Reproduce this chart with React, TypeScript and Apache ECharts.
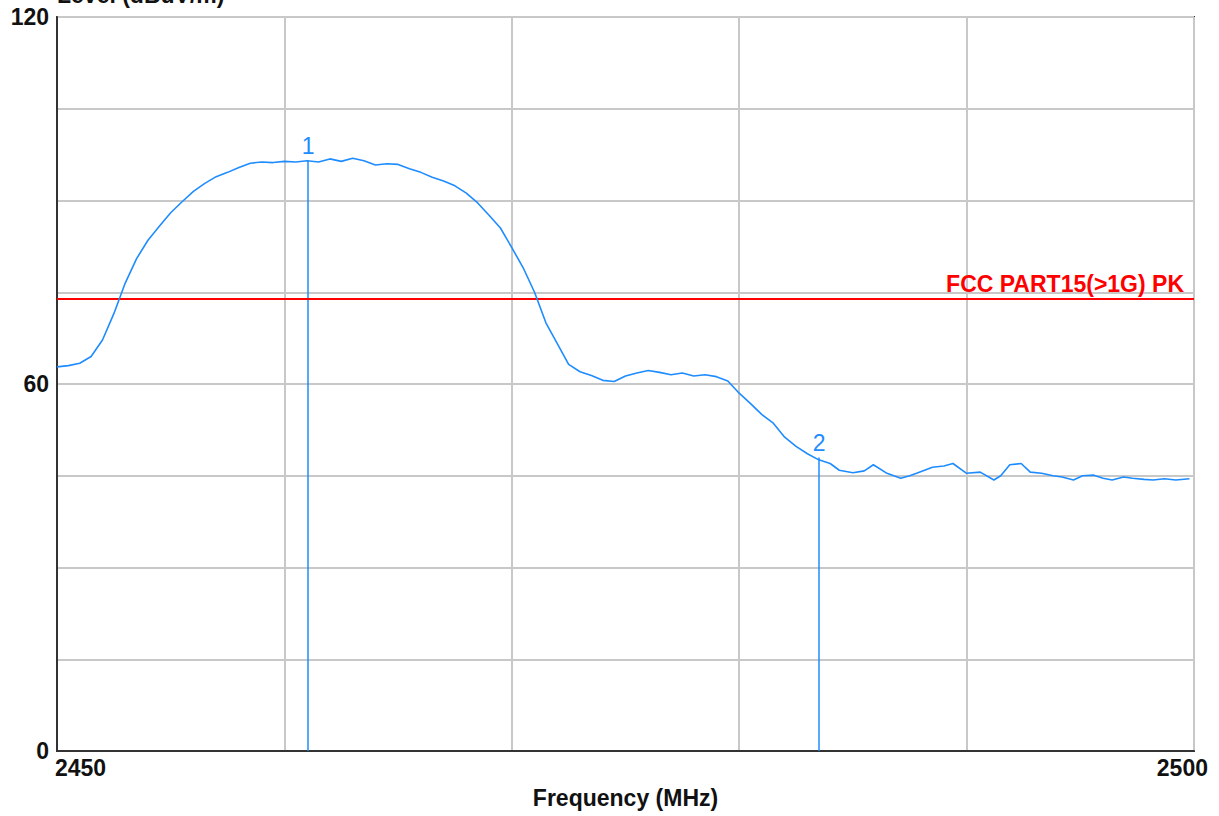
import React, { useEffect, useRef } from "react";
import * as echarts from "echarts";

// Frequency (MHz) of each trace point and the measured level (dBuV/m)
const freqs: number[] = [
  2450.0, 2450.5, 2451.0, 2451.5, 2452.0, 2452.5, 2453.0, 2453.5, 2454.0, 2454.5,
  2455.0, 2455.5, 2456.0, 2456.5, 2457.0, 2457.5, 2458.0, 2458.5, 2459.0, 2459.5,
  2460.0, 2460.5, 2461.0, 2461.5, 2462.0, 2462.5, 2463.0, 2463.5, 2464.0, 2464.5,
  2465.0, 2465.5, 2466.0, 2466.5, 2467.0, 2467.5, 2468.0, 2468.5, 2469.0, 2469.5,
  2470.0, 2470.5, 2471.0, 2471.5, 2472.0, 2472.5, 2473.0, 2473.5, 2474.0, 2474.5,
  2475.0, 2475.5, 2476.0, 2476.5, 2477.0, 2477.5, 2478.0, 2478.5, 2479.0, 2479.5,
  2480.0, 2480.5, 2481.0, 2481.5, 2482.0, 2482.5, 2483.0, 2483.5, 2484.0, 2484.4,
  2485.0, 2485.5, 2485.9, 2486.5, 2487.1, 2487.5, 2487.8, 2488.5, 2489.0, 2489.4,
  2490.0, 2490.6, 2491.2, 2491.5, 2491.9, 2492.4, 2492.8, 2493.3, 2493.8, 2494.2,
  2494.7, 2495.1, 2495.6, 2496.0, 2496.4, 2496.9, 2497.3, 2497.8, 2498.2, 2498.7,
  2499.2, 2499.8,
];

const levels: number[] = [
  62.8, 63.0, 63.4, 64.5, 67.2, 71.5, 76.5, 80.5, 83.5, 85.8,
  88.0, 89.8, 91.5, 92.8, 93.9, 94.6, 95.4, 96.1, 96.3, 96.2,
  96.4, 96.3, 96.5, 96.3, 96.8, 96.4, 96.9, 96.5, 95.8, 96.0,
  95.9, 95.2, 94.6, 93.8, 93.2, 92.4, 91.2, 89.6, 87.6, 85.5,
  82.3, 79.0, 75.0, 70.0, 66.6, 63.2, 62.0, 61.4, 60.6, 60.4,
  61.3, 61.8, 62.2, 61.9, 61.5, 61.8, 61.3, 61.5, 61.2, 60.5,
  58.5, 56.8, 55.0, 53.6, 51.3, 49.8, 48.6, 47.6, 47.0, 45.9,
  45.5, 45.8, 46.8, 45.4, 44.6, 45.0, 45.4, 46.4, 46.6, 47.0,
  45.4, 45.6, 44.3, 45.0, 46.8, 47.0, 45.6, 45.4, 45.0, 44.8,
  44.3, 45.0, 45.1, 44.6, 44.3, 44.8, 44.6, 44.4, 44.3, 44.5,
  44.3, 44.5,
];

// Markers
const markerNames: string[] = ["1", "2"];
const markerFreqs: number[] = [2461.04, 2483.52];
const markerLevels: number[] = [96.5, 48.0];

// Limit line
const limitLevel = 74;
const limitName = "FCC PART15(>1G) PK";

// Axis ranges / ticks
const xMin = 2450;
const xMax = 2500;
const xStep = 10;
const yMin = 0;
const yMax = 120;
const yStep = 15;
const yLabelled: number[] = [0, 60, 120];

const FONT = "'Liberation Sans', Arial, sans-serif";
const TRACE = "#1E8CFF";

export default function App() {
  const ref = useRef<HTMLDivElement>(null);

  useEffect(() => {
    if (!ref.current) return;
    const chart = echarts.init(ref.current, null, { renderer: "svg" });

    const data = freqs.map((f, i) => [f, levels[i]]);

    const markerLines = markerNames.map((name, i) => [
      {
        coord: [markerFreqs[i], yMin],
        symbol: "none",
        lineStyle: { color: TRACE, width: 1.5, type: "solid" },
      },
      {
        coord: [markerFreqs[i], markerLevels[i]],
        symbol: "none",
        label: {
          show: true,
          position: "end",
          formatter: name,
          color: TRACE,
          fontSize: 23,
          fontFamily: FONT,
          distance: 3,
        },
      },
    ]);

    const tickFont = {
      fontFamily: FONT,
      fontWeight: "bold",
      fontSize: 23,
      color: "#111",
    };

    chart.setOption({
      animation: false,
      backgroundColor: "#ffffff",
      grid: {
        left: 57,
        right: 25,
        top: 17,
        bottom: 65,
        outerBoundsMode: "none",
        containLabel: false,
        show: true,
        borderColor: "#333333",
        borderWidth: 2,
        backgroundColor: "transparent",
      },
      xAxis: {
        type: "value",
        min: xMin,
        max: xMax,
        interval: xStep,
        name: "Frequency (MHz)",
        nameLocation: "middle",
        nameGap: 35,
        nameTextStyle: tickFont,
        axisLine: { show: true, lineStyle: { color: "#333333", width: 2 } },
        axisTick: { show: false },
        splitLine: { show: true, lineStyle: { color: "#c8c8c8", width: 2 } },
        axisLabel: {
          margin: 5,
          ...tickFont,
          alignMinLabel: "left",
          alignMaxLabel: "right",
          showMinLabel: true,
          showMaxLabel: true,
          formatter: (v: number) =>
            v === xMin ? `{l|${v}}` : v === xMax ? `{r|${v}}` : "",
          rich: {
            l: { ...tickFont, padding: [0, 0, 0, -2] },
            r: { ...tickFont, padding: [0, -14, 0, 0] },
          },
        },
      },
      yAxis: {
        type: "value",
        min: yMin,
        max: yMax,
        interval: yStep,
        name: "Level (dBuV/m)",
        nameLocation: "end",
        nameGap: 11,
        nameTextStyle: { ...tickFont, align: "left" },
        axisLine: { show: true, lineStyle: { color: "#333333", width: 2 } },
        axisTick: { show: false },
        splitLine: { show: true, lineStyle: { color: "#c8c8c8", width: 2 } },
        axisLabel: {
          margin: 8,
          ...tickFont,
          formatter: (v: number) => (yLabelled.includes(v) ? String(v) : ""),
        },
      },
      series: [
        {
          type: "line",
          data,
          showSymbol: false,
          symbol: "none",
          lineStyle: { color: TRACE, width: 1.6 },
          z: 5,
          markLine: {
            silent: true,
            symbol: "none",
            animation: false,
            data: [
              ...markerLines,
              {
                yAxis: limitLevel,
                lineStyle: { color: "#ff0000", width: 2, type: "solid" },
                label: {
                  show: true,
                  position: "insideEndTop",
                  formatter: limitName,
                  color: "#ff0000",
                  fontFamily: FONT,
                  fontWeight: "bold",
                  fontSize: 23,
                  distance: [10, 3],
                },
              },
            ],
          },
        },
      ],
    });

    return () => chart.dispose();
  }, []);

  return (
    <div
      ref={ref}
      style={{ position: "fixed", left: 0, top: 0, width: 1219, height: 816 }}
    />
  );
}
